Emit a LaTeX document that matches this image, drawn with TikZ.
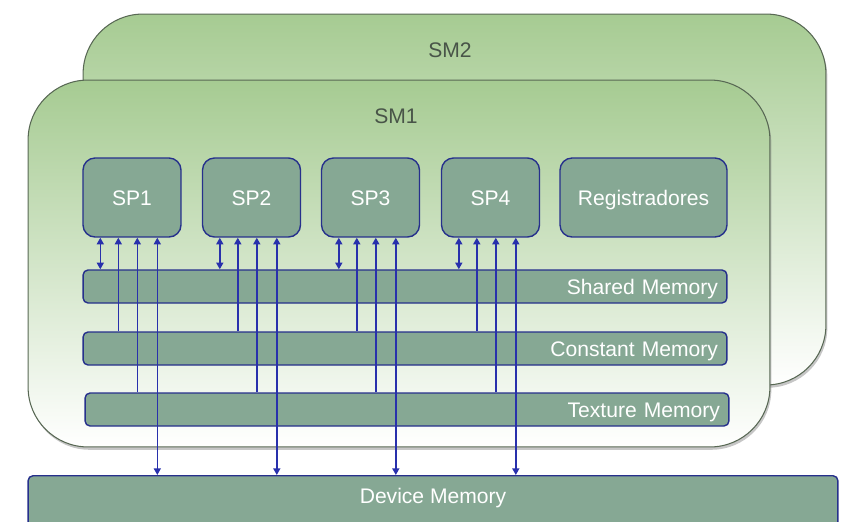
\documentclass[tikz,border=0pt]{standalone}
\usepackage{fontspec}
\setmainfont{Liberation Sans}
\usepackage{tikz}
\usetikzlibrary{arrows.meta, positioning, calc, shadows}
\definecolor{smgreen}{RGB}{166,203,146}
\definecolor{smedge}{RGB}{88,104,84}
\definecolor{smtext}{RGB}{72,84,72}
\definecolor{boxfill}{RGB}{134,168,148}
\definecolor{boxedge}{RGB}{38,48,140}
\definecolor{busblue}{RGB}{40,48,172}

\begin{document}
\begin{tikzpicture}[x=0.02cm, y=-0.02cm,
  smbox/.style={draw=smedge, line width=0.6pt, rounded corners=1.2cm,
    top color=smgreen, middle color=smgreen!62, bottom color=white,
    drop shadow={shadow xshift=0.8pt, shadow yshift=-1.6pt, opacity=0.45}},
  smlabel/.style={text=smtext, font=\fontsize{12}{14}\selectfont},
  boxtext/.style={text=white, font=\fontsize{12}{14}\selectfont, text height=8.6pt, text depth=0pt},
  spbox/.style={boxtext, draw=boxedge, line width=0.8pt, fill=boxfill, rounded corners=0.24cm,
    minimum width=1.96cm, minimum height=1.58cm},
  membar/.style={boxtext, draw=boxedge, line width=0.8pt, fill=boxfill, rounded corners=0.1cm,
    minimum height=0.66cm, text width=12.52cm, inner xsep=0.18cm, align=right},
  bus/.style={busblue, line width=0.85pt, >={Triangle[length=3.8pt, width=4pt]}}]
  \useasboundingbox (0,0) rectangle (852,521);

  % streaming multiprocessors
  \node[smbox, minimum width=14.86cm, minimum height=7.42cm] (sm2) at (454.5,199.5) {};
  \node[smlabel] (sm2title) at (450,50) {SM2};
  \node[smbox, minimum width=14.84cm, minimum height=7.34cm] (sm1) at (399,263.5) {};
  \node[smlabel] (sm1title) at (396,116) {SM1};

  % processors and registers
  \node[spbox] (sp1) at (132,197.5) {SP1};
  \node[spbox] (sp2) at (251.5,197.5) {SP2};
  \node[spbox] (sp3) at (370.5,197.5) {SP3};
  \node[spbox] (sp4) at (490.5,197.5) {SP4};
  \node[spbox, minimum width=3.34cm] (regs) at (643.5,197.5) {Registradores};

  % memories
  \node[membar] (shared) at (405,286.5) {Shared Memory};
  \node[membar] (const) at (405,348.5) {Constant Memory};
  \node[membar] (texture) at (407,409.5) {Texture Memory};
  \node[membar, minimum width=16.2cm, minimum height=1.4cm, anchor=north] (device) at (433,475) {};
  \node[boxtext] (devlabel) at (433,496) {Device Memory};

  % buses
  \foreach \s in {1,...,4}{
    \path ($(sp\s.south west)+(18,0)$) coordinate (p1)
          ($(sp\s.south west)+(36,0)$) coordinate (p2)
          ($(sp\s.south west)+(55,0)$) coordinate (p3)
          ($(sp\s.south west)+(75,0)$) coordinate (p4);
    \draw[bus, <->] (p1) -- (p1 |- shared.north);
    \draw[bus, ->] (p2 |- const.north) -- (p2);
    \draw[bus, ->] (p3 |- texture.north) -- (p3);
    \draw[bus, <->] (p4) -- (p4 |- device.north);
  }
\end{tikzpicture}
\end{document}
